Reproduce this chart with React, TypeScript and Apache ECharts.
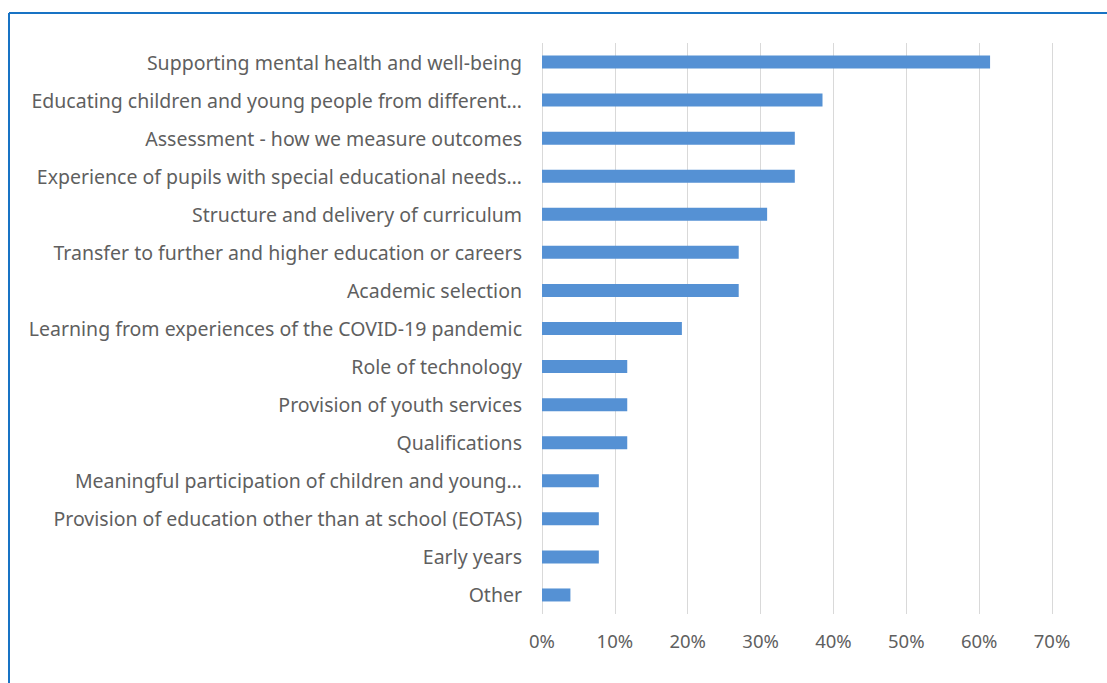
import React, { useEffect, useRef } from "react";
import * as echarts from "echarts";

const categories = [
  "Supporting mental health and well-being",
  "Educating children and young people from different…",
  "Assessment - how we measure outcomes",
  "Experience of pupils with special educational needs…",
  "Structure and delivery of curriculum",
  "Transfer to further and higher education or careers",
  "Academic selection",
  "Learning from experiences of the COVID-19 pandemic",
  "Role of technology",
  "Provision of youth services",
  "Qualifications",
  "Meaningful participation of children and young…",
  "Provision of education other than at school (EOTAS)",
  "Early years",
  "Other",
];

const values = [61.5, 38.5, 34.7, 34.7, 30.9, 27.0, 27.0, 19.2, 11.7, 11.7, 11.7, 7.8, 7.8, 7.8, 3.9];

const axisMin = 0;
const axisMax = 70;
const axisStep = 10;

export default function App() {
  const ref = useRef<HTMLDivElement>(null);
  useEffect(() => {
    document.body.style.margin = "0";
    const chart = echarts.init(ref.current!, null, { renderer: "svg" });
    const textColor = "#5f5f5f";
    const font = "'Noto Sans', sans-serif";
    chart.setOption({
      animation: false,
      backgroundColor: "#ffffff",
      grid: { left: 542, right: 55, top: 43, bottom: 69, containLabel: false },
      xAxis: {
        type: "value",
        min: axisMin,
        max: axisMax,
        interval: axisStep,
        axisLabel: {
          formatter: "{value}%",
          color: textColor,
          fontFamily: font,
          fontSize: 18.5,
          margin: 17,
        },
        axisLine: { show: false },
        axisTick: { show: false },
        splitLine: { show: true, lineStyle: { color: "#d9d9d9", width: 1 } },
      },
      yAxis: {
        type: "category",
        data: categories,
        inverse: true,
        axisLine: { show: false },
        axisTick: { show: false },
        axisLabel: {
          color: textColor,
          fontFamily: font,
          fontSize: 19.5,
          margin: 20,
        },
      },
      series: [
        {
          type: "bar",
          data: values,
          barWidth: 13,
          itemStyle: { color: "#5591d4" },
        },
      ],
      graphic: [
        {
          type: "line",
          shape: { x1: 9, y1: 13, x2: 1107, y2: 13 },
          style: { stroke: "#1873c4", lineWidth: 2 },
        },
        {
          type: "line",
          shape: { x1: 9, y1: 13, x2: 9, y2: 683 },
          style: { stroke: "#1873c4", lineWidth: 2 },
        },
      ],
    });
    return () => chart.dispose();
  }, []);
  return (
    <div
      ref={ref}
      style={{ position: "fixed", left: 0, top: 0, width: 1107, height: 683 }}
    />
  );
}
